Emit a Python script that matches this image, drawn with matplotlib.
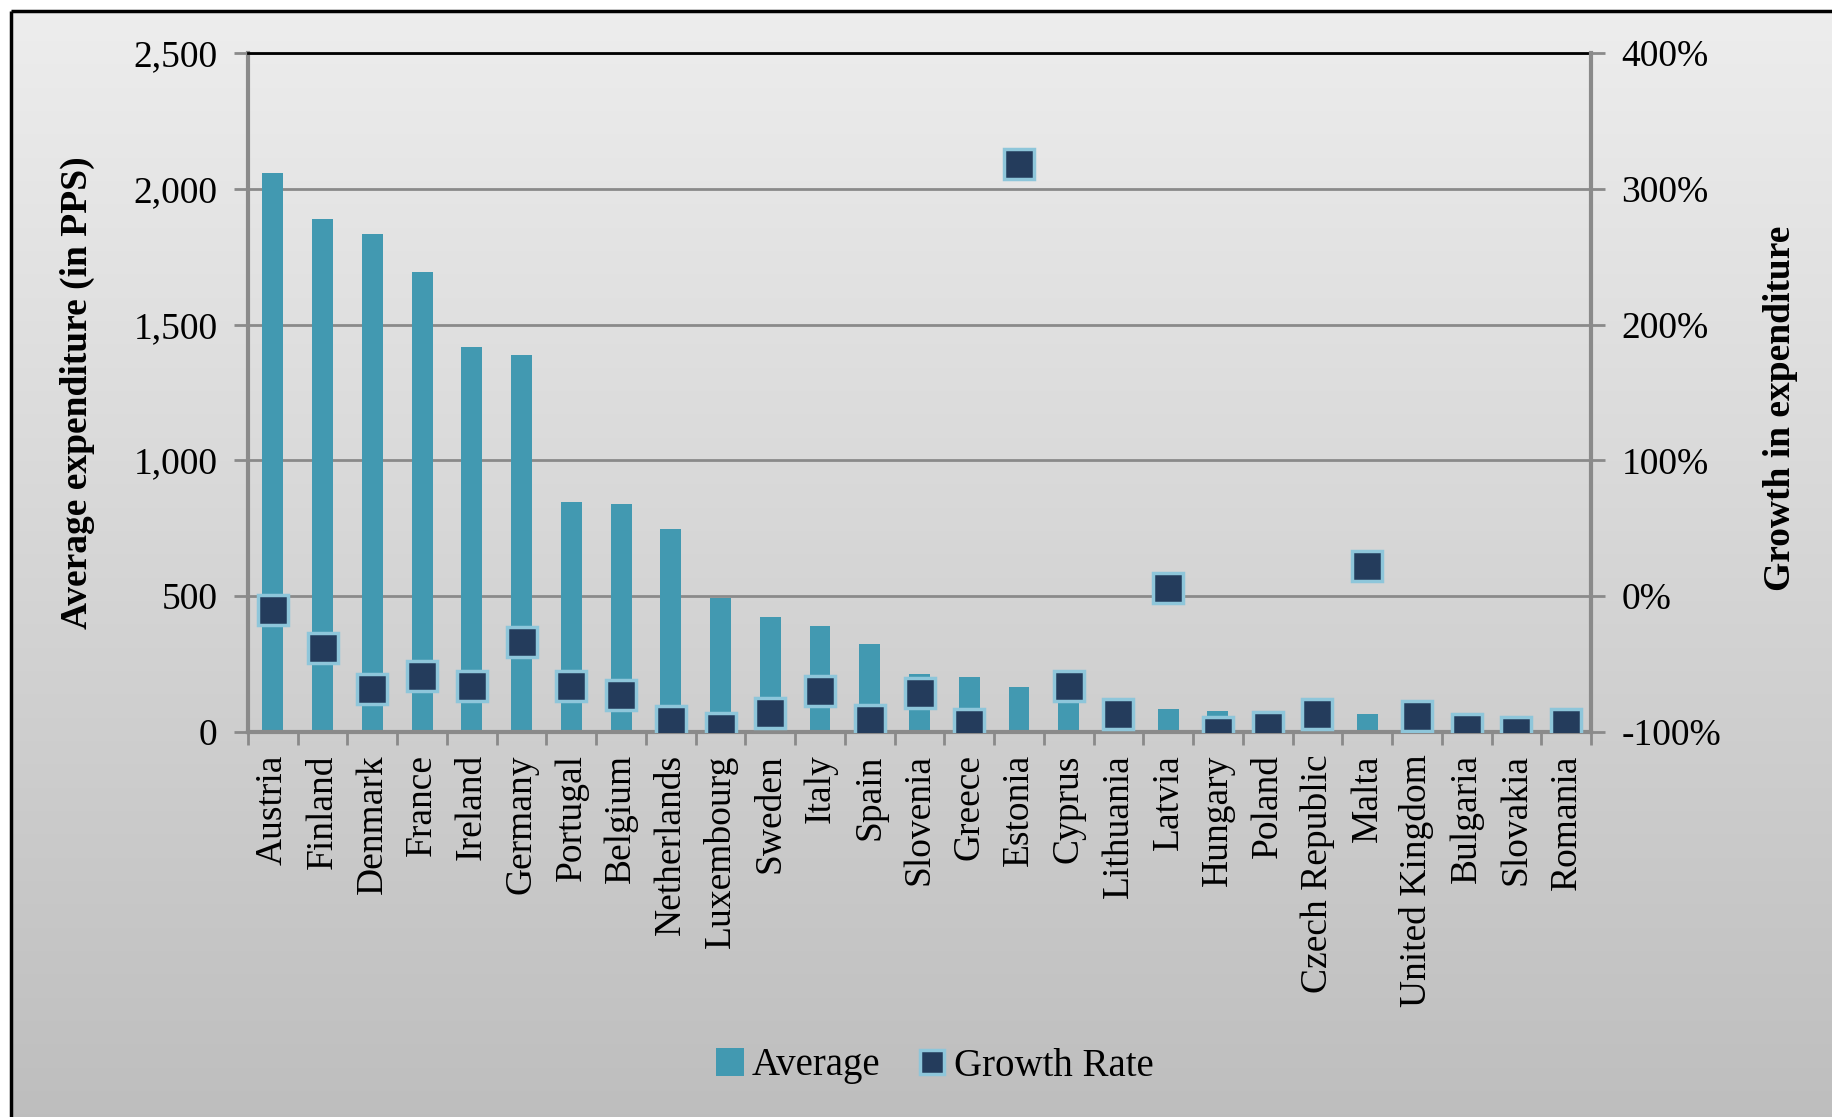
import numpy as np
import matplotlib
matplotlib.use("Agg")
import matplotlib.pyplot as plt
from matplotlib.patches import Patch
from matplotlib.lines import Line2D

plt.rcParams['font.family'] = ['Liberation Serif', 'DejaVu Serif']

countries = ["Austria", "Finland", "Denmark", "France", "Ireland", "Germany",
             "Portugal", "Belgium", "Netherlands", "Luxembourg", "Sweden", "Italy",
             "Spain", "Slovenia", "Greece", "Estonia", "Cyprus", "Lithuania",
             "Latvia", "Hungary", "Poland", "Czech Republic", "Malta",
             "United Kingdom", "Bulgaria", "Slovakia", "Romania"]
average = [2060, 1890, 1835, 1695, 1418, 1387, 846, 838, 747, 492, 425, 390,
           324, 214, 201, 165, 150, 100, 86, 78, 72, 70, 68, 60, 50, 40, 35]
growth = [-10, -38, -68, -59, -66, -34, -66, -73, -92, -97, -86, -70,
          -91, -71, -94, 318, -66, -87, 6, -100, -96, -87, 22, -88, -98, -100, -94]

left_ticks = [0, 500, 1000, 1500, 2000, 2500]
left_labels = ["0", "500", "1,000", "1,500", "2,000", "2,500"]
right_ticks = [-100, 0, 100, 200, 300, 400]
right_labels = ["-100%", "0%", "100%", "200%", "300%", "400%"]

BAR = '#4299b1'
MFC = '#243c5c'
MEC = '#8ec6da'
GRID = '#8a8a8a'

W, H = 1833, 1117
fig = plt.figure(figsize=(W / 100, H / 100), dpi=100)
fig.patch.set_facecolor('white')

# background gradient and frame
bg = fig.add_axes([0, 0, 1, 1], zorder=-10)
bg.set_xlim(0, W)
bg.set_ylim(H, 0)
bg.axis('off')
grad = np.linspace(0, 1, 256).reshape(-1, 1)
top = np.array([0.93, 0.93, 0.93])
bot = np.array([0.745, 0.745, 0.745])
img = top[None, None, :] * (1 - grad[:, :, None]) + bot[None, None, :] * grad[:, :, None]
bg.imshow(img, extent=[12, W, H, 12], aspect='auto', interpolation='bilinear')
bg.plot([11, W], [11, 11], color='black', lw=2.5, solid_capstyle='butt')
bg.plot([11, 11], [11, H], color='black', lw=2.5, solid_capstyle='butt')

ax = fig.add_axes([248 / W, 1 - 732 / H, (1591 - 248) / W, (732 - 53) / H])
ax.patch.set_alpha(0)
x = np.arange(len(countries))
ax.bar(x, average, width=0.42, color=BAR, zorder=2)
ax.set_xlim(-0.5, len(countries) - 0.5)
ax.set_ylim(0, 2500)
ax.set_axisbelow(True)
ax.yaxis.grid(True, color=GRID, lw=2)
ax.set_yticks(left_ticks)
ax.set_yticklabels(left_labels, fontsize=27)
ax.tick_params(axis='y', direction='out', length=10, width=2, color=GRID, pad=12)
ax.set_xticks(x)
ax.set_xticklabels(countries, rotation=90, fontsize=27)
ax.tick_params(axis='x', which='major', length=0, pad=16)
ax.set_xticks(np.arange(-0.5, len(countries), 1), minor=True)
ax.tick_params(axis='x', which='minor', direction='out', length=9, width=2, color=GRID)
for s in ['left', 'bottom']:
    ax.spines[s].set_color(GRID)
    ax.spines[s].set_linewidth(3)
ax.spines['top'].set_color('black')
ax.spines['top'].set_linewidth(2)
ax.spines['right'].set_visible(False)
ax.set_ylabel('Average expenditure (in PPS)', fontsize=27, fontweight='bold')
ax.yaxis.set_label_coords(-0.114, 0.50)

ax2 = ax.twinx()
ax2.plot(x, growth, 's', ms=21, mfc=MFC, mec=MEC, mew=2.5, ls='none', zorder=3)
ax2.set_ylim(-100, 400)
ax2.set_yticks(right_ticks)
ax2.set_yticklabels(right_labels, fontsize=27)
ax2.tick_params(axis='y', direction='out', length=10, width=2, color=GRID, pad=12)
ax2.spines['right'].set_color(GRID)
ax2.spines['right'].set_linewidth(3)
for s in ['left', 'top', 'bottom']:
    ax2.spines[s].set_visible(False)
ax2.set_ylabel('Growth in expenditure', fontsize=27, fontweight='bold')
ax2.yaxis.set_label_coords(1.128, 0.476)

handles = [Patch(facecolor=BAR, edgecolor='none'),
           Line2D([], [], marker='s', ls='none', ms=17, mfc=MFC, mec=MEC, mew=2.5)]
fig.legend(handles, ['Average', 'Growth Rate'], loc='center',
           bbox_to_anchor=(935 / W, 1 - 1066 / H), ncol=2, frameon=False,
           fontsize=28, handlelength=0.7, handleheight=0.7, handletextpad=0.2,
           columnspacing=1.0)

fig.savefig('out.png', dpi=100)
